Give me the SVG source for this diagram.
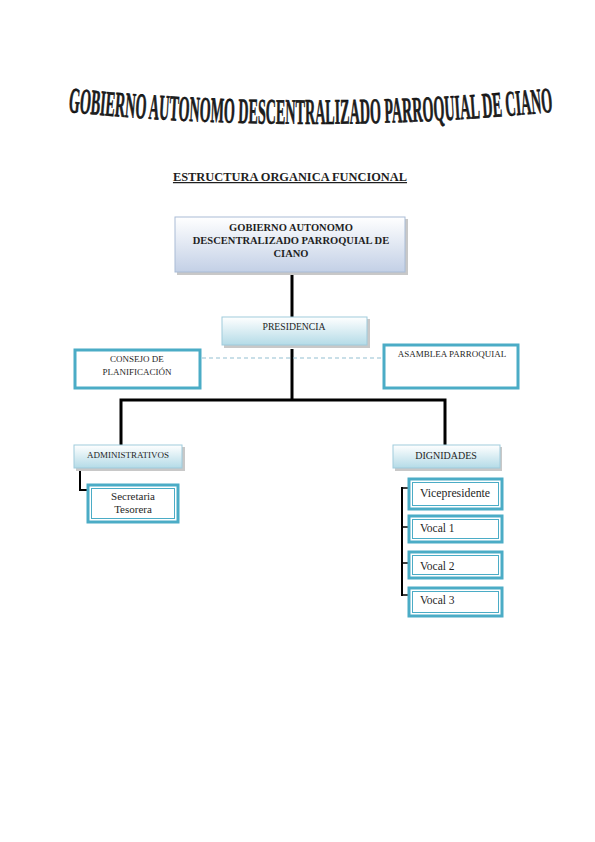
<svg xmlns="http://www.w3.org/2000/svg" width="595" height="842" viewBox="0 0 595 842">
<defs>
<linearGradient id="gTop" x1="0" y1="0" x2="0" y2="1">
<stop offset="0" stop-color="#ffffff"/>
<stop offset="1" stop-color="#c3d0e6"/>
</linearGradient>
<linearGradient id="gCyan" x1="0" y1="0" x2="0" y2="1">
<stop offset="0" stop-color="#ffffff"/>
<stop offset="1" stop-color="#b4dbe7"/>
</linearGradient>
<path id="arc" d="M 68,112 Q 310,136 552,112"/>
</defs>
<style>
.serif{font-family:"Liberation Serif","Times New Roman",serif;fill:#1f1f1f}
.b{font-weight:bold}
.ln{stroke:#000;stroke-width:3;fill:none}
.box{fill:#fff;stroke:#4bacc6;stroke-width:3}
.inner{fill:none;stroke:#4bacc6;stroke-width:1}
.shadow{fill:#c8c8c8}
</style>
<rect width="595" height="842" fill="#fff"/>
<text class="serif b" font-size="36" fill="#000" stroke="#000" stroke-width="0.6"><textPath href="#arc" textLength="486" lengthAdjust="spacingAndGlyphs">GOBIERNO AUTONOMO DESCENTRALIZADO PARROQUIAL DE CIANO</textPath></text>
<text class="serif b" x="290" y="181" font-size="12.4" text-anchor="middle" text-decoration="underline">ESTRUCTURA ORGANICA FUNCIONAL</text>
<g id="connectors">
<line class="ln" x1="292" y1="273" x2="292" y2="317"/>
<line class="ln" x1="292" y1="349" x2="292" y2="399"/>
<polyline class="ln" points="121,445 121,400 445,400 445,445"/>
<line x1="202" y1="358" x2="382" y2="358" stroke="#93bfd1" stroke-width="1" stroke-dasharray="4,3"/>
<polyline points="80,470 80,490 89,490" stroke="#000" stroke-width="2" fill="none"/>
<line x1="402" y1="487" x2="402" y2="596" stroke="#000" stroke-width="2"/>
<line x1="401" y1="488" x2="409" y2="488" stroke="#000" stroke-width="1.5"/>
<line x1="401" y1="527" x2="409" y2="527" stroke="#000" stroke-width="1.5"/>
<line x1="401" y1="563" x2="409" y2="563" stroke="#000" stroke-width="1.5"/>
<line x1="401" y1="595" x2="409" y2="595" stroke="#000" stroke-width="1.5"/>
</g>
<g id="n-gad">
<rect class="shadow" x="177" y="219" width="231" height="56"/>
<rect x="175" y="217" width="230" height="55" fill="url(#gTop)" stroke="#a9bcd6" stroke-width="1"/>
<text class="serif b" font-size="10.5" text-anchor="middle"><tspan x="291" y="231">GOBIERNO AUTONOMO</tspan><tspan x="291" y="244">DESCENTRALIZADO PARROQUIAL DE</tspan><tspan x="291" y="257">CIANO</tspan></text>
</g>
<g id="n-presidencia">
<rect class="shadow" x="224" y="319" width="146" height="29"/>
<rect x="222" y="317" width="145" height="28" fill="url(#gCyan)" stroke="#9fcbdc" stroke-width="1"/>
<text class="serif" x="294" y="330" font-size="9.7" text-anchor="middle">PRESIDENCIA</text>
</g>
<g id="n-consejo">
<rect class="box" x="75" y="350" width="125" height="38"/>
<text class="serif" font-size="9" text-anchor="middle"><tspan x="137" y="362">CONSEJO DE</tspan><tspan x="137" y="375">PLANIFICACIÓN</tspan></text>
</g>
<g id="n-asamblea">
<rect class="box" x="384" y="345" width="134" height="43"/>
<text class="serif" x="452" y="357" font-size="9" text-anchor="middle">ASAMBLEA PARROQUIAL</text>
</g>
<g id="n-admin">
<rect class="shadow" x="76" y="447" width="109" height="24"/>
<rect x="74" y="445" width="108" height="23" fill="url(#gCyan)" stroke="#9fcbdc" stroke-width="1"/>
<text class="serif" x="128" y="458" font-size="9" text-anchor="middle">ADMINISTRATIVOS</text>
</g>
<g id="n-secretaria">
<rect class="box" x="88" y="485" width="90" height="37"/>
<rect class="inner" x="91.5" y="488.5" width="83" height="30"/>
<text class="serif" font-size="11" text-anchor="middle"><tspan x="133" y="500">Secretaria</tspan><tspan x="133" y="513">Tesorera</tspan></text>
</g>
<g id="n-dignidades">
<rect class="shadow" x="395" y="447" width="107" height="24"/>
<rect x="393" y="445" width="107" height="23" fill="url(#gCyan)" stroke="#9fcbdc" stroke-width="1"/>
<text class="serif" x="446" y="459" font-size="10" text-anchor="middle">DIGNIDADES</text>
</g>
<g id="n-vice">
<rect class="box" x="409" y="479" width="93" height="30"/>
<rect class="inner" x="412.5" y="482.5" width="86" height="23"/>
<text class="serif" x="420" y="497" font-size="11.8">Vicepresidente</text>
</g>
<g id="n-vocal1">
<rect class="box" x="409" y="516" width="93" height="26"/>
<rect class="inner" x="412.5" y="519.5" width="86" height="19"/>
<text class="serif" x="420" y="532" font-size="11.5">Vocal 1</text>
</g>
<g id="n-vocal2">
<rect class="box" x="409" y="552" width="93" height="26"/>
<rect class="inner" x="412.5" y="555.5" width="86" height="19"/>
<text class="serif" x="420" y="570" font-size="11.5">Vocal 2</text>
</g>
<g id="n-vocal3">
<rect class="box" x="409" y="588" width="93" height="28"/>
<rect class="inner" x="412.5" y="591.5" width="86" height="21"/>
<text class="serif" x="420" y="604" font-size="11.5">Vocal 3</text>
</g>
</svg>
